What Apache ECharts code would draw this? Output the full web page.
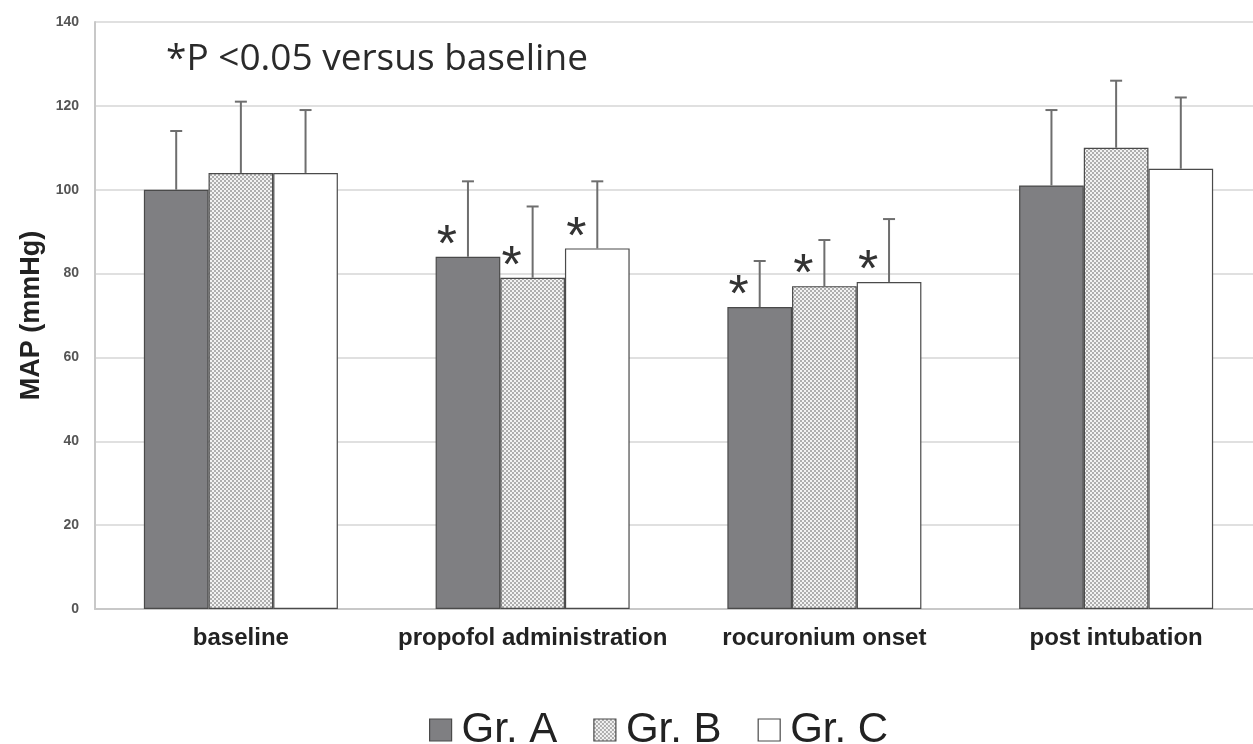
<!DOCTYPE html>
<html><head><meta charset="utf-8">
<script src="https://cdn.jsdelivr.net/npm/echarts@6/dist/echarts.min.js"></script>
<style>html,body{margin:0;padding:0;background:#fff;overflow:hidden;width:1253px;height:744px}#c{width:1262px;height:744px}</style>
</head><body><div id="c"></div>
<script>
const categories = ['baseline', 'propofol administration', 'rocuronium onset', 'post intubation'];
const groupNames = ['Gr. A', 'Gr. B', 'Gr. C'];
const grA = [100, 84, 72, 101];
const grB = [104, 79, 77, 110];
const grC = [104, 86, 78, 105];
const errA = [14, 18, 11, 18];
const errB = [17, 17, 11, 16];
const errC = [15, 16, 15, 17];
const sigA = [false, true, true, false];
const sigB = [false, true, true, false];
const sigC = [false, true, true, false];
const yTicks = [0, 20, 40, 60, 80, 100, 120, 140];

const values = [grA, grB, grC];
const errs = [errA, errB, errC];
const sigs = [sigA, sigB, sigC];

// dotted checker pattern for Gr. B
const pc = document.createElement('canvas');
pc.width = 4; pc.height = 4;
const pctx = pc.getContext('2d');
pctx.fillStyle = '#f2f2f2'; pctx.fillRect(0, 0, 4, 4);
pctx.fillStyle = '#aeaeae';
pctx.fillRect(0, 0, 2, 2); pctx.fillRect(2, 2, 2, 2);
const patternB = { image: pc, repeat: 'repeat' };

const fills = ['#7f7f82', patternB, '#ffffff'];
const catGap = 0.335;

const chart = echarts.init(document.getElementById('c'));
const series = [];
groupNames.forEach((name, i) => {
  series.push({
    name: name,
    type: 'bar',
    data: values[i],
    barGap: '0%',
    barCategoryGap: (catGap * 100) + '%',
    itemStyle: { color: fills[i], borderColor: '#4a4a4a', borderWidth: 1.2 },
    emphasis: { disabled: true },
    z: 2
  });
});
groupNames.forEach((name, i) => {
  series.push({
    name: name + ' err',
    type: 'custom',
    data: values[i].map((v, k) => [k, v, errs[i][k], sigs[i][k] ? 1 : 0]),
    encode: { x: 0, y: 1 },
    z: 3,
    silent: true,
    renderItem: function (params, api) {
      const k = api.value(0), v = api.value(1), e = api.value(2), s = api.value(3);
      const band = api.size([1, 0])[0];
      const bw = band * (1 - catGap) / 3;
      const center = api.coord([k, v]);
      const x = center[0] + (i - 1) * bw;
      const yTop = api.coord([k, v + e])[1];
      const yBar = center[1];
      const children = [
        { type: 'line', shape: { x1: x, y1: yBar, x2: x, y2: yTop }, style: { stroke: '#6e6e6e', lineWidth: 2 } },
        { type: 'line', shape: { x1: x - 6, y1: yTop, x2: x + 6, y2: yTop }, style: { stroke: '#6e6e6e', lineWidth: 2 } }
      ];
      if (s) {
        children.push({
          type: 'text',
          style: {
            text: '*', x: x - 21, y: yBar + 16, align: 'center', verticalAlign: 'bottom',
            font: '52px "Liberation Sans", Arial, sans-serif', fill: '#333'
          }
        });
      }
      return { type: 'group', children: children };
    }
  });
});

chart.setOption({
  animation: false,
  backgroundColor: '#fff',
  grid: { left: 95, right: 0, top: 22, bottom: 135, containLabel: false },
  title: {
    text: '*P <0.05 versus baseline',
    left: 161, top: 36,
    textStyle: { fontFamily: '"Open Sans", "Noto Sans", sans-serif', fontSize: 37, fontWeight: 'normal', color: '#2a2a2a' }
  },
  legend: {
    data: groupNames,
    bottom: -12, left: 424,
    itemWidth: 22, itemHeight: 22, itemGap: 36,
    icon: 'rect',
    textStyle: { fontFamily: '"Liberation Sans", Arial, sans-serif', fontSize: 42, color: '#222', padding: [0, 0, 0, 5] },
    itemStyle: { borderColor: '#4a4a4a', borderWidth: 1.2 }
  },
  xAxis: {
    type: 'category',
    data: categories,
    axisLine: { lineStyle: { color: '#c8c8c8', width: 2 } },
    axisTick: { show: false },
    axisLabel: { interval: 0, fontFamily: '"Liberation Sans", Arial, sans-serif', fontWeight: 'bold', fontSize: 24, color: '#222', margin: 17 }
  },
  yAxis: {
    type: 'value',
    min: 0, max: 140, interval: 20,
    name: 'MAP (mmHg)',
    nameLocation: 'middle',
    nameGap: 43,
    nameTextStyle: { fontFamily: '"Liberation Sans", Arial, sans-serif', fontWeight: 'bold', fontSize: 27, color: '#222' },
    axisLine: { show: true, lineStyle: { color: '#c8c8c8', width: 2 } },
    axisTick: { show: false },
    splitLine: { lineStyle: { color: '#d6d6d6', width: 1.5 } },
    axisLabel: { fontFamily: '"Liberation Sans", Arial, sans-serif', fontWeight: 'bold', fontSize: 14, color: '#555', margin: 16,
      formatter: v => yTicks.includes(v) ? String(v) : '' }
  },
  series: series
});
</script></body></html>
